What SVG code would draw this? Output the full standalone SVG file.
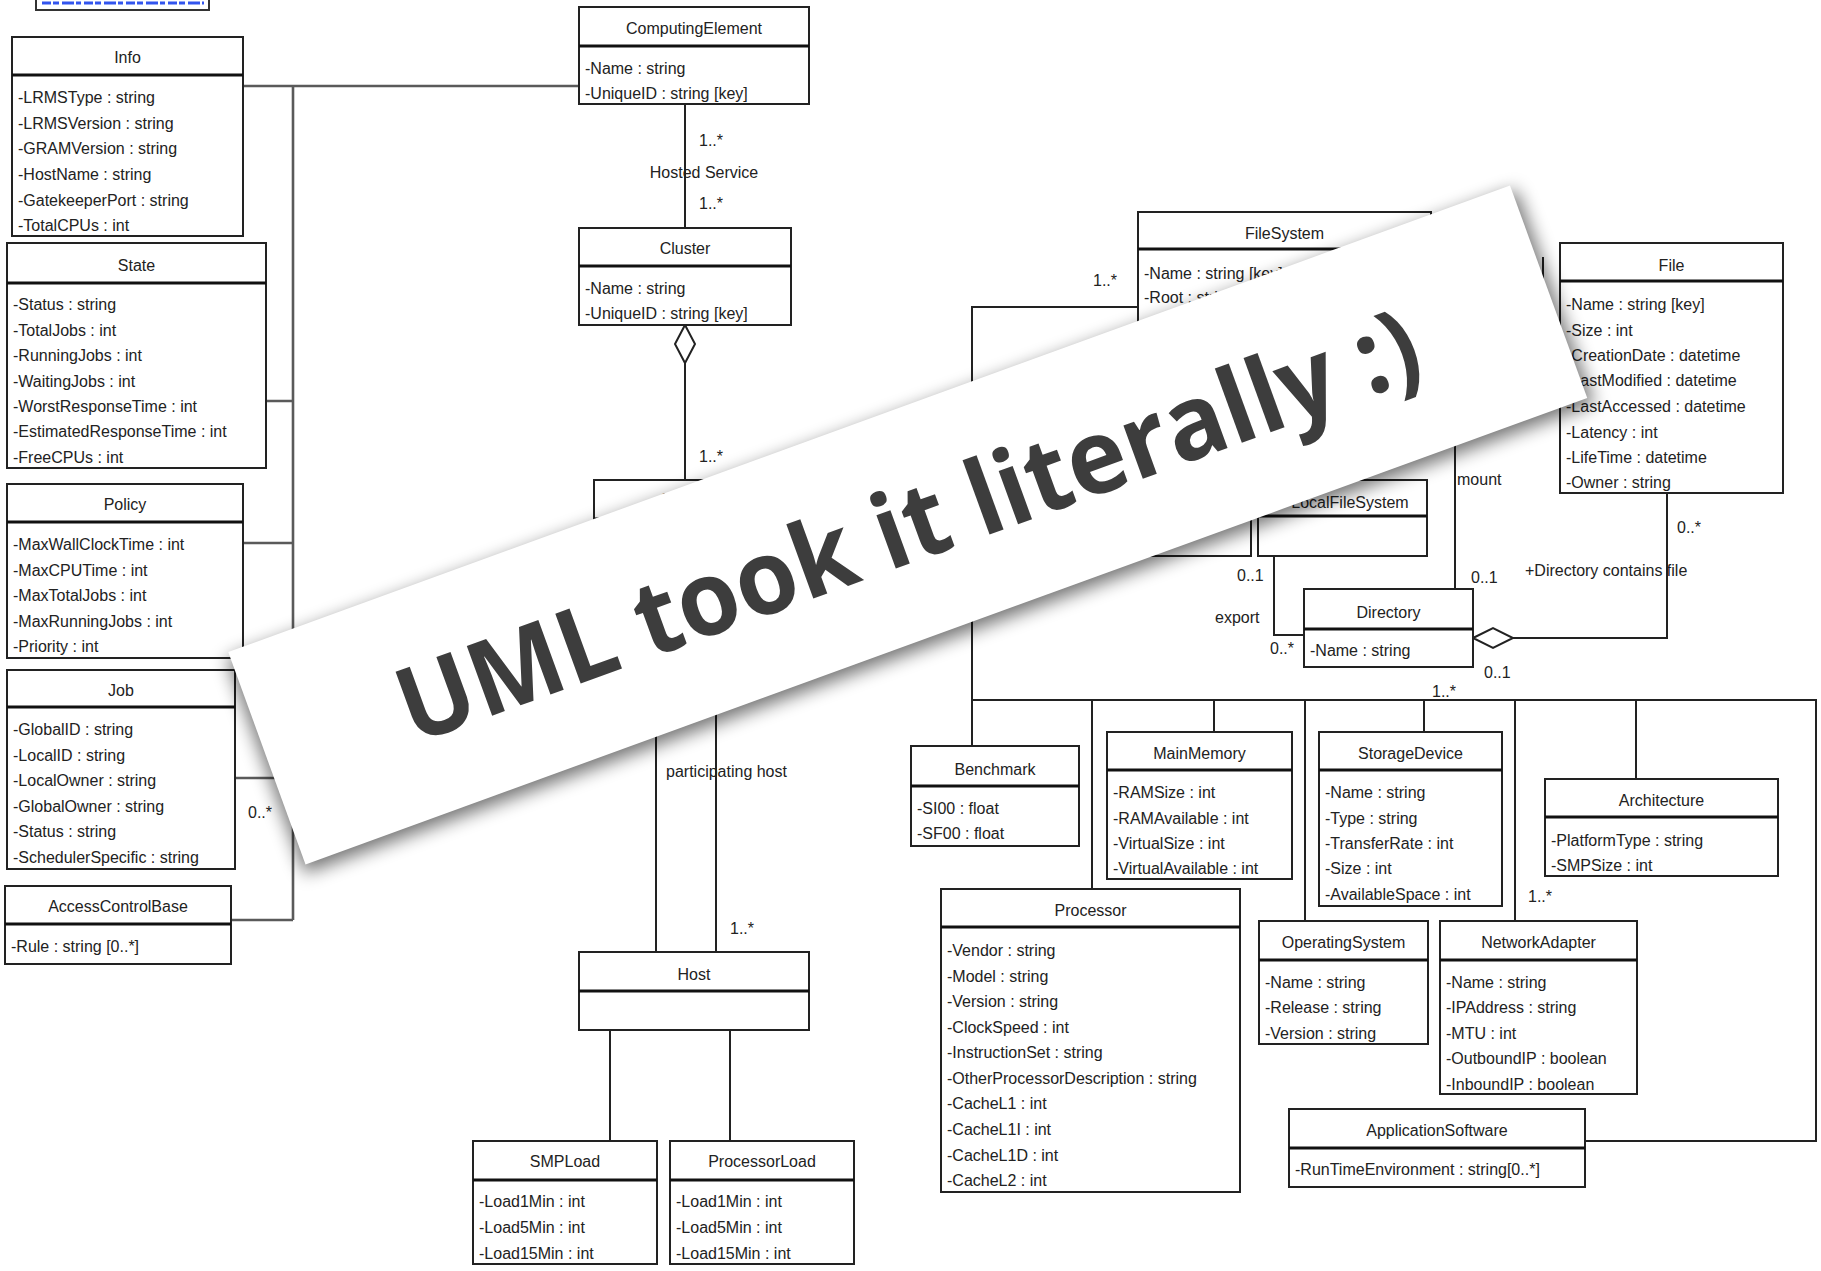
<svg xmlns="http://www.w3.org/2000/svg" width="1821" height="1271" viewBox="0 0 1821 1271">
<style>
.box{fill:#fff;stroke:#222;stroke-width:2}
.hd{stroke:#111;stroke-width:3.2}
.t{font-family:"Liberation Sans",Arial,sans-serif;font-size:16px;fill:#222}
.c{text-anchor:middle}
.ln{fill:none;stroke:#222;stroke-width:2}
.lg{fill:none;stroke:#5a5a5a;stroke-width:2.6}
.dia{fill:#fff;stroke:#222;stroke-width:2}
.ban{font-family:"Open Sans","Lato","Liberation Sans",sans-serif;font-weight:700;font-size:104px;fill:#3d3d3d}
</style>
<defs>
<filter id="blur" x="-10%" y="-40%" width="120%" height="180%"><feGaussianBlur stdDeviation="9"/></filter>
</defs>
<rect x="0" y="0" width="1821" height="1271" fill="#fff"/>
<g id="version-box">
<rect x="36" y="-10" width="173" height="20" fill="#fff" stroke="#333" stroke-width="2"/>
<line x1="42" y1="3" x2="204" y2="3" stroke="#3355ee" stroke-width="3" stroke-dasharray="9 2 6 3 12 2 5 3"/>
</g>
<g id="connectors">
<path class="lg" d="M243,86 H579 M293,86 V920 M266,401 H293 M243,543 H293 M235,778 H293 M231,920 H293"/>
<path class="ln" d="M685,104 V228 M685,363 V480 M656,600 V952 M716,600 V952 M610,1030 V1141 M730,1030 V1141"/>
<polygon class="dia" points="685,325 695,344 685,363 675,344"/>
<path class="ln" d="M1138,307 H972 V746 M972,700 H1816 V1141 H1585 M1092,700 V889 M1214,700 V732 M1305,700 V921 M1424,700 V732 M1515,700 V921 M1636,700 V779"/>
<path class="ln" d="M1274,556 V635 H1304 M1455,400 V589 M1513,638 H1667 V493 M1543,257 V330"/>
<polygon class="dia" points="1473,638 1493,628 1513,638 1493,648"/>
<text class="t" x="248" y="818">0..*</text>
<text class="t" x="699" y="146">1..*</text>
<text class="t c" x="704" y="178">Hosted Service</text>
<text class="t" x="699" y="209">1..*</text>
<text class="t" x="699" y="462">1..*</text>
<text class="t" x="666" y="777">participating host</text>
<text class="t" x="730" y="934">1..*</text>
<text class="t" x="1093" y="286">1..*</text>
<text class="t" x="1237" y="581">0..1</text>
<text class="t" x="1215" y="623">export</text>
<text class="t" x="1270" y="654">0..*</text>
<text class="t" x="1457" y="485">mount</text>
<text class="t" x="1471" y="583">0..1</text>
<text class="t" x="1484" y="678">0..1</text>
<text class="t" x="1677" y="533">0..*</text>
<text class="t" x="1525" y="576">+Directory contains file</text>
<text class="t" x="1432" y="697">1..*</text>
<text class="t" x="1528" y="902">1..*</text>
</g>
<g id="info">
<rect class="box" x="12" y="37" width="231" height="199"/><line class="hd" x1="12" y1="75" x2="243" y2="75"/>
<text class="t c" x="127.5" y="63">Info</text>
<text class="t" x="18" y="103">-LRMSType : string</text>
<text class="t" x="18" y="129">-LRMSVersion : string</text>
<text class="t" x="18" y="154">-GRAMVersion : string</text>
<text class="t" x="18" y="180">-HostName : string</text>
<text class="t" x="18" y="206">-GatekeeperPort : string</text>
<text class="t" x="18" y="231">-TotalCPUs : int</text>
</g>
<g id="state">
<rect class="box" x="7" y="243" width="259" height="225"/><line class="hd" x1="7" y1="283" x2="266" y2="283"/>
<text class="t c" x="136.5" y="271">State</text>
<text class="t" x="13" y="310">-Status : string</text>
<text class="t" x="13" y="336">-TotalJobs : int</text>
<text class="t" x="13" y="361">-RunningJobs : int</text>
<text class="t" x="13" y="387">-WaitingJobs : int</text>
<text class="t" x="13" y="412">-WorstResponseTime : int</text>
<text class="t" x="13" y="437">-EstimatedResponseTime : int</text>
<text class="t" x="13" y="463">-FreeCPUs : int</text>
</g>
<g id="policy">
<rect class="box" x="7" y="484" width="236" height="174"/><line class="hd" x1="7" y1="522" x2="243" y2="522"/>
<text class="t c" x="125" y="510">Policy</text>
<text class="t" x="13" y="550">-MaxWallClockTime : int</text>
<text class="t" x="13" y="576">-MaxCPUTime : int</text>
<text class="t" x="13" y="601">-MaxTotalJobs : int</text>
<text class="t" x="13" y="627">-MaxRunningJobs : int</text>
<text class="t" x="13" y="652">-Priority : int</text>
</g>
<g id="job">
<rect class="box" x="7" y="670" width="228" height="199"/><line class="hd" x1="7" y1="707" x2="235" y2="707"/>
<text class="t c" x="121" y="696">Job</text>
<text class="t" x="13" y="735">-GlobalID : string</text>
<text class="t" x="13" y="761">-LocalID : string</text>
<text class="t" x="13" y="786">-LocalOwner : string</text>
<text class="t" x="13" y="812">-GlobalOwner : string</text>
<text class="t" x="13" y="837">-Status : string</text>
<text class="t" x="13" y="863">-SchedulerSpecific : string</text>
</g>
<g id="accesscontrolbase">
<rect class="box" x="5" y="886" width="226" height="78"/><line class="hd" x1="5" y1="924" x2="231" y2="924"/>
<text class="t c" x="118" y="912">AccessControlBase</text>
<text class="t" x="11" y="952">-Rule : string [0..*]</text>
</g>
<g id="computingelement">
<rect class="box" x="579" y="7" width="230" height="97"/><line class="hd" x1="579" y1="46" x2="809" y2="46"/>
<text class="t c" x="694" y="34">ComputingElement</text>
<text class="t" x="585" y="74">-Name : string</text>
<text class="t" x="585" y="99">-UniqueID : string [key]</text>
</g>
<g id="cluster">
<rect class="box" x="579" y="228" width="212" height="97"/><line class="hd" x1="579" y1="266" x2="791" y2="266"/>
<text class="t c" x="685" y="254">Cluster</text>
<text class="t" x="585" y="294">-Name : string</text>
<text class="t" x="585" y="319">-UniqueID : string [key]</text>
</g>
<g id="subcluster">
<rect class="box" x="594" y="480" width="212" height="120"/><line class="hd" x1="594" y1="519" x2="806" y2="519"/>
<text class="t c" x="700" y="505">SubCluster</text>
</g>
<g id="host">
<rect class="box" x="579" y="952" width="230" height="78"/><line class="hd" x1="579" y1="991" x2="809" y2="991"/>
<text class="t c" x="694" y="980">Host</text>
</g>
<g id="smpload">
<rect class="box" x="473" y="1141" width="184" height="123"/><line class="hd" x1="473" y1="1180" x2="657" y2="1180"/>
<text class="t c" x="565" y="1167">SMPLoad</text>
<text class="t" x="479" y="1207">-Load1Min : int</text>
<text class="t" x="479" y="1233">-Load5Min : int</text>
<text class="t" x="479" y="1259">-Load15Min : int</text>
</g>
<g id="processorload">
<rect class="box" x="670" y="1141" width="184" height="123"/><line class="hd" x1="670" y1="1180" x2="854" y2="1180"/>
<text class="t c" x="762" y="1167">ProcessorLoad</text>
<text class="t" x="676" y="1207">-Load1Min : int</text>
<text class="t" x="676" y="1233">-Load5Min : int</text>
<text class="t" x="676" y="1259">-Load15Min : int</text>
</g>
<g id="filesystem">
<rect class="box" x="1138" y="212" width="293" height="200"/><line class="hd" x1="1138" y1="249" x2="1431" y2="249"/>
<text class="t c" x="1284.5" y="239">FileSystem</text>
<text class="t" x="1144" y="279">-Name : string [key]</text>
<text class="t" x="1144" y="303">-Root : string</text>
</g>
<g id="hidden-filesystem">
<rect class="box" x="1085" y="480" width="166" height="76"/><line class="hd" x1="1085" y1="516" x2="1251" y2="516"/>
</g>
<g id="localfilesystem">
<rect class="box" x="1258" y="480" width="169" height="76"/><line class="hd" x1="1258" y1="516" x2="1427" y2="516"/>
<text class="t c" x="1350" y="508">LocalFileSystem</text>
</g>
<g id="file">
<rect class="box" x="1560" y="243" width="223" height="250"/><line class="hd" x1="1560" y1="281" x2="1783" y2="281"/>
<text class="t c" x="1671.5" y="271">File</text>
<text class="t" x="1566" y="310">-Name : string [key]</text>
<text class="t" x="1566" y="336">-Size : int</text>
<text class="t" x="1566" y="361">-CreationDate : datetime</text>
<text class="t" x="1566" y="386">-LastModified : datetime</text>
<text class="t" x="1566" y="412">-LastAccessed : datetime</text>
<text class="t" x="1566" y="438">-Latency : int</text>
<text class="t" x="1566" y="463">-LifeTime : datetime</text>
<text class="t" x="1566" y="488">-Owner : string</text>
</g>
<g id="directory">
<rect class="box" x="1304" y="589" width="169" height="78"/><line class="hd" x1="1304" y1="629" x2="1473" y2="629"/>
<text class="t c" x="1388.5" y="618">Directory</text>
<text class="t" x="1310" y="656">-Name : string</text>
</g>
<g id="benchmark">
<rect class="box" x="911" y="746" width="168" height="100"/><line class="hd" x1="911" y1="786" x2="1079" y2="786"/>
<text class="t c" x="995" y="775">Benchmark</text>
<text class="t" x="917" y="814">-SI00 : float</text>
<text class="t" x="917" y="839">-SF00 : float</text>
</g>
<g id="mainmemory">
<rect class="box" x="1107" y="732" width="185" height="147"/><line class="hd" x1="1107" y1="770" x2="1292" y2="770"/>
<text class="t c" x="1199.5" y="759">MainMemory</text>
<text class="t" x="1113" y="798">-RAMSize : int</text>
<text class="t" x="1113" y="824">-RAMAvailable : int</text>
<text class="t" x="1113" y="849">-VirtualSize : int</text>
<text class="t" x="1113" y="874">-VirtualAvailable : int</text>
</g>
<g id="storagedevice">
<rect class="box" x="1319" y="732" width="183" height="174"/><line class="hd" x1="1319" y1="770" x2="1502" y2="770"/>
<text class="t c" x="1410.5" y="759">StorageDevice</text>
<text class="t" x="1325" y="798">-Name : string</text>
<text class="t" x="1325" y="824">-Type : string</text>
<text class="t" x="1325" y="849">-TransferRate : int</text>
<text class="t" x="1325" y="874">-Size : int</text>
<text class="t" x="1325" y="900">-AvailableSpace : int</text>
</g>
<g id="architecture">
<rect class="box" x="1545" y="779" width="233" height="97"/><line class="hd" x1="1545" y1="817" x2="1778" y2="817"/>
<text class="t c" x="1661.5" y="806">Architecture</text>
<text class="t" x="1551" y="846">-PlatformType : string</text>
<text class="t" x="1551" y="871">-SMPSize : int</text>
</g>
<g id="processor">
<rect class="box" x="941" y="889" width="299" height="303"/><line class="hd" x1="941" y1="927" x2="1240" y2="927"/>
<text class="t c" x="1090.5" y="916">Processor</text>
<text class="t" x="947" y="956">-Vendor : string</text>
<text class="t" x="947" y="982">-Model : string</text>
<text class="t" x="947" y="1007">-Version : string</text>
<text class="t" x="947" y="1033">-ClockSpeed : int</text>
<text class="t" x="947" y="1058">-InstructionSet : string</text>
<text class="t" x="947" y="1084">-OtherProcessorDescription : string</text>
<text class="t" x="947" y="1109">-CacheL1 : int</text>
<text class="t" x="947" y="1135">-CacheL1I : int</text>
<text class="t" x="947" y="1161">-CacheL1D : int</text>
<text class="t" x="947" y="1186">-CacheL2 : int</text>
</g>
<g id="operatingsystem">
<rect class="box" x="1259" y="921" width="169" height="123"/><line class="hd" x1="1259" y1="960" x2="1428" y2="960"/>
<text class="t c" x="1343.5" y="948">OperatingSystem</text>
<text class="t" x="1265" y="988">-Name : string</text>
<text class="t" x="1265" y="1013">-Release : string</text>
<text class="t" x="1265" y="1039">-Version : string</text>
</g>
<g id="networkadapter">
<rect class="box" x="1440" y="921" width="197" height="173"/><line class="hd" x1="1440" y1="960" x2="1637" y2="960"/>
<text class="t c" x="1538.5" y="948">NetworkAdapter</text>
<text class="t" x="1446" y="988">-Name : string</text>
<text class="t" x="1446" y="1013">-IPAddress : string</text>
<text class="t" x="1446" y="1039">-MTU : int</text>
<text class="t" x="1446" y="1064">-OutboundIP : boolean</text>
<text class="t" x="1446" y="1090">-InboundIP : boolean</text>
</g>
<g id="applicationsoftware">
<rect class="box" x="1289" y="1109" width="296" height="78"/><line class="hd" x1="1289" y1="1148" x2="1585" y2="1148"/>
<text class="t c" x="1437" y="1136">ApplicationSoftware</text>
<text class="t" x="1295" y="1175">-RunTimeEnvironment : string[0..*]</text>
</g>
<g id="banner" transform="rotate(-20 907.75 525)">
<rect x="222" y="418" width="1372" height="228" fill="#000" opacity="0.55" filter="url(#blur)"/>
<rect x="225.75" y="412" width="1364" height="226" fill="#fff"/>
<text class="ban" x="907.75" y="562" text-anchor="middle" textLength="1080" lengthAdjust="spacingAndGlyphs">UML took it literally :)</text>
</g>
</svg>
